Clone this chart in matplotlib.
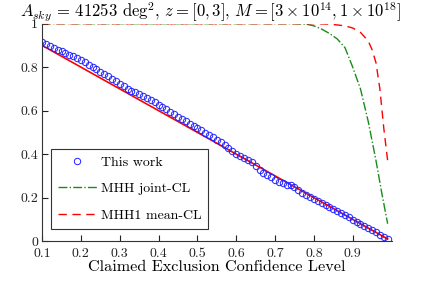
import matplotlib
matplotlib.use('Agg')
import matplotlib.pyplot as plt
import numpy as np

plt.rcParams['font.family'] = 'serif'
plt.rcParams['font.serif'] = ['cmr10', 'DejaVu Serif']
plt.rcParams['mathtext.fontset'] = 'cm'
plt.rcParams['axes.formatter.use_mathtext'] = True

# claimed exclusion confidence level vs fraction
cl = np.arange(0.10, 0.995, 0.01)
this_work = [0.915, 0.906, 0.897, 0.888, 0.880, 0.872, 0.865, 0.858, 0.850, 0.842,
             0.833, 0.822, 0.811, 0.800, 0.790, 0.779, 0.768, 0.757, 0.746, 0.734,
             0.722, 0.711, 0.701, 0.692, 0.684, 0.676, 0.667, 0.658, 0.648, 0.638,
             0.627, 0.616, 0.606, 0.595, 0.584, 0.573, 0.562, 0.551, 0.540, 0.530,
             0.520, 0.510, 0.499, 0.488, 0.477, 0.466, 0.455, 0.442, 0.428, 0.414,
             0.402, 0.391, 0.382, 0.373, 0.362, 0.346, 0.328, 0.315, 0.304, 0.293,
             0.283, 0.273, 0.265, 0.260, 0.256, 0.249, 0.234, 0.220, 0.210, 0.201,
             0.192, 0.184, 0.176, 0.167, 0.158, 0.149, 0.140, 0.130, 0.120, 0.110,
             0.099, 0.089, 0.080, 0.070, 0.060, 0.050, 0.040, 0.030, 0.020, 0.010]

ideal_x = [0.10, 0.99]
ideal_y = [0.90, 0.01]

joint_x = [0.10, 0.75, 0.78, 0.80, 0.82, 0.84, 0.86, 0.88, 0.90, 0.92, 0.94, 0.96, 0.975, 0.99]
joint_y = [1.0, 1.0, 0.998, 0.99, 0.975, 0.955, 0.93, 0.89, 0.80, 0.70, 0.55, 0.37, 0.22, 0.08]

mean_x = [0.10, 0.80, 0.84, 0.88, 0.90, 0.92, 0.94, 0.95, 0.96, 0.97, 0.98, 0.99]
mean_y = [1.0, 1.0, 0.998, 0.99, 0.98, 0.96, 0.92, 0.88, 0.82, 0.70, 0.52, 0.37]

fig = plt.figure(figsize=(4.21, 2.85), dpi=100)
ax = fig.add_axes([0.1, 0.154, 0.83, 0.763])

ax.plot(ideal_x, ideal_y, color='#ff0000', lw=1.2, zorder=2)
ax.plot(cl, this_work, 'o', mfc='none', mec='#2222ff', ms=4.6, mew=0.7, label='This work', zorder=3)
ax.plot(joint_x, joint_y, '-.', color='#1a8c1a', lw=1.0, label='MHH joint-CL')
ax.plot(mean_x, mean_y, '--', color='#ff0000', lw=1.0, dashes=(6, 4), label='MHH1 mean-CL')

ax.set_xlim(0.1, 1.0)
ax.set_ylim(0, 1)
ax.set_xticks(np.arange(0.1, 0.95, 0.1))
ax.set_xticklabels(['0.1', '0.2', '0.3', '0.4', '0.5', '0.6', '0.7', '0.8', '0.9'])
ax.set_yticks([0, 0.2, 0.4, 0.6, 0.8, 1])
ax.set_yticklabels(['0', '0.2', '0.4', '0.6', '0.8', '1'])
ax.tick_params(direction='in', length=4, labelsize=10, colors='#222222')
ax.tick_params(axis='x', pad=5)
ax.tick_params(axis='y', pad=3)
for s in ['top', 'right']:
    ax.spines[s].set_visible(False)
for s in ['left', 'bottom']:
    ax.spines[s].set_color('#333333')

ax.set_xlabel('Claimed Exclusion Confidence Level', fontsize=11.7, labelpad=0)
ax.set_title(r'$A_{sky}$ = 41253 deg$^2$, $z = [0,3]$, $M = [3\times10^{14},1\times10^{18}]$',
             fontsize=12, pad=4, x=0.481)

leg = ax.legend(loc='lower left', bbox_to_anchor=(0.005, 0.025), fontsize=10,
                handlelength=2.8, labelspacing=1.0, borderpad=0.5, fancybox=False,
                numpoints=1, handletextpad=0.3)
leg.get_frame().set_edgecolor('black')
leg.get_frame().set_linewidth(0.8)

fig.savefig('out.png', dpi=100)
